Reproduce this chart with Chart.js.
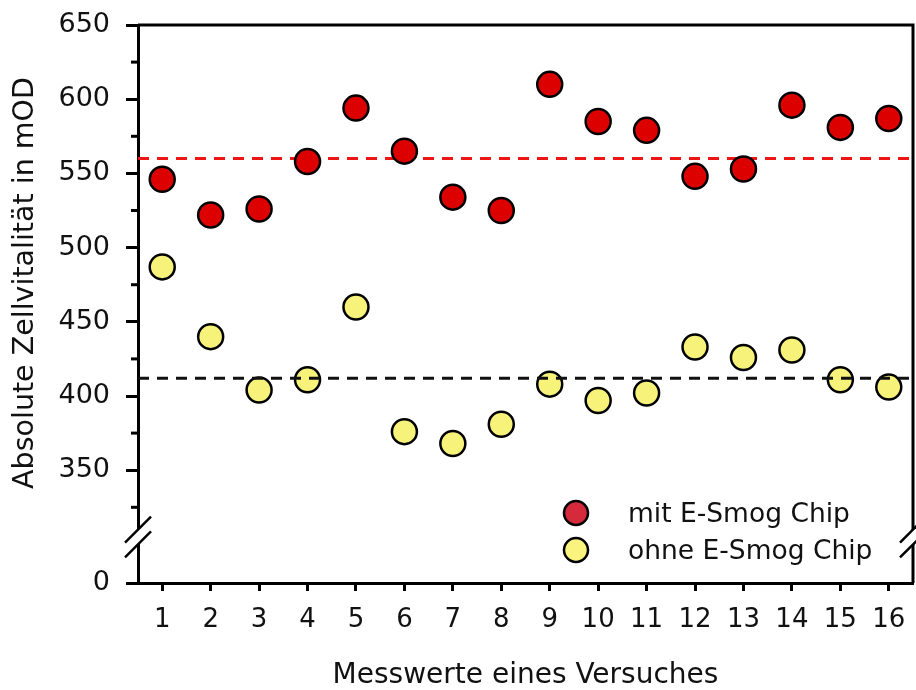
<!DOCTYPE html>
<html>
<head>
<meta charset="utf-8">
<script src="https://cdn.jsdelivr.net/npm/chart.js@4.4.1/dist/chart.umd.min.js"></script>
<style>
  html, body { margin: 0; padding: 0; background: #ffffff; }
  #wrap { width: 916px; height: 690px; }
</style>
</head>
<body>
<div id="wrap"><canvas id="c" width="916" height="690"></canvas></div>
<script>
// ---- data ----
const categories = [1, 2, 3, 4, 5, 6, 7, 8, 9, 10, 11, 12, 13, 14, 15, 16];
const mitChip  = [546, 522, 526, 558, 594, 565, 534, 525, 610, 585, 579, 548, 553, 596, 581, 587];
const ohneChip = [487, 440, 404, 411, 460, 376, 368, 381, 408, 397, 402, 433, 426, 431, 411, 406];
const meanMit = 560;
const meanOhne = 412;
const seriesLabels = ['mit E-Smog Chip', 'ohne E-Smog Chip'];
const yMajorTicks = [350, 400, 450, 500, 550, 600, 650];
const yMinorTicks = [325, 375, 425, 475, 525, 575, 625];
const yBreakBase = 274;      // axis position where the broken axis shows "0"
const yBreakBaseLabel = '0';
const yBreakMarks = [300, 310]; // values where the break slashes sit
const xTitle = 'Messwerte eines Versuches';
const yTitle = 'Absolute Zellvitalität in mOD';

const FONT = 'DejaVu Sans';
const TEXT = '#111111';

Chart.defaults.font.family = FONT;
Chart.defaults.color = TEXT;

const frameBreakPlugin = {
  id: 'frameBreak',
  afterDraw(chart) {
    const ctx = chart.ctx;
    const a = chart.chartArea;
    const ys = chart.scales.y;
    ctx.save();
    // minor ticks on y axis
    ctx.strokeStyle = '#000';
    ctx.lineWidth = 3;
    yMinorTicks.forEach(v => {
      const py = ys.getPixelForValue(v);
      ctx.beginPath();
      ctx.moveTo(a.left - 7, py);
      ctx.lineTo(a.left, py);
      ctx.stroke();
    });
    // top and right frame
    ctx.beginPath();
    ctx.moveTo(a.left, a.top);
    ctx.lineTo(a.right, a.top);
    ctx.lineTo(a.right, a.bottom);
    ctx.stroke();
    // axis breaks (left and right)
    const y1 = ys.getPixelForValue(yBreakMarks[1]);
    const y2 = ys.getPixelForValue(yBreakMarks[0]);
    const d = 13;
    [a.left, a.right].forEach(x => {
      ctx.fillStyle = '#ffffff';
      ctx.beginPath();
      ctx.moveTo(x - d, y1 + d);
      ctx.lineTo(x + d, y1 - d);
      ctx.lineTo(x + d, y2 - d);
      ctx.lineTo(x - d, y2 + d);
      ctx.closePath();
      ctx.fill();
      ctx.strokeStyle = '#000';
      ctx.lineWidth = 2.5;
      [y1, y2].forEach(yy => {
        ctx.beginPath();
        ctx.moveTo(x - d, yy + d);
        ctx.lineTo(x + d, yy - d);
        ctx.stroke();
      });
    });
    // y axis title
    ctx.fillStyle = TEXT;
    ctx.font = '28.5px "' + FONT + '"';
    ctx.textAlign = 'center';
    ctx.textBaseline = 'alphabetic';
    ctx.translate(33, 283);
    ctx.rotate(-Math.PI / 2);
    ctx.fillText(yTitle, 0, 0);
    ctx.restore();

    // legend
    ctx.save();
    const lx = a.right - 337;
    const rows = [a.bottom - 70, a.bottom - 33];
    const legendFills = ['#D42A3C', '#FAF47E'];
    chart.data.datasets.slice(0, 2).forEach((ds, i) => {
      ctx.beginPath();
      ctx.arc(lx, rows[i], 12, 0, Math.PI * 2);
      ctx.fillStyle = legendFills[i];
      ctx.fill();
      ctx.lineWidth = 2.5;
      ctx.strokeStyle = '#000';
      ctx.stroke();
      ctx.fillStyle = TEXT;
      ctx.font = '26.5px "' + FONT + '"';
      ctx.textAlign = 'left';
      ctx.textBaseline = 'alphabetic';
      ctx.fillText(ds.label, lx + 52, rows[i] + 9);
    });
    ctx.restore();
  }
};

const pointsMit = categories.map((c, i) => ({ x: c, y: mitChip[i] }));
const pointsOhne = categories.map((c, i) => ({ x: c, y: ohneChip[i] }));
const xMin = categories[0] - 0.5;
const xMax = categories[categories.length - 1] + 0.5;

function zeroPadding(s) {
  s.paddingTop = 0; s.paddingBottom = 0; s.paddingLeft = 0; s.paddingRight = 0;
}

new Chart(document.getElementById('c'), {
  type: 'scatter',
  data: {
    datasets: [
      {
        label: seriesLabels[0], data: pointsMit, order: 1,
        pointRadius: 12.5, pointHoverRadius: 12.5,
        backgroundColor: '#DD0000', borderColor: '#000', borderWidth: 2.5, clip: false
      },
      {
        label: seriesLabels[1], data: pointsOhne, order: 4,
        pointRadius: 12.5, pointHoverRadius: 12.5,
        backgroundColor: '#F7F27A', borderColor: '#000', borderWidth: 2.5, clip: false
      },
      {
        label: 'mean mit', data: [{ x: xMin, y: meanMit }, { x: xMax, y: meanMit }], order: 2,
        showLine: true, pointRadius: 0, borderColor: '#EE1515', borderWidth: 3,
        borderDash: [11, 8], fill: false
      },
      {
        label: 'mean ohne', data: [{ x: xMin, y: meanOhne }, { x: xMax, y: meanOhne }], order: 3,
        showLine: true, pointRadius: 0, borderColor: '#111', borderWidth: 3,
        borderDash: [11, 8], fill: false
      }
    ]
  },
  options: {
    responsive: false,
    animation: false,
    events: [],
    layout: { autoPadding: false, padding: { top: 25, right: 3, left: 0, bottom: 0 } },
    plugins: { legend: { display: false }, tooltip: { enabled: false } },
    scales: {
      x: {
        type: 'linear', min: xMin, max: xMax,
        afterBuildTicks: s => { s.ticks = categories.map(v => ({ value: v })); },
        afterFit: s => { s.height = 107; zeroPadding(s); },
        ticks: { font: { size: 26 }, color: TEXT, padding: 14, autoSkip: false, maxRotation: 0,
                 callback: v => String(v) },
        grid: { drawOnChartArea: false, drawTicks: true, tickLength: 8, tickWidth: 3, tickColor: '#000' },
        border: { display: true, width: 3, color: '#000' },
        title: { display: true, text: xTitle, font: { size: 28 }, color: TEXT, padding: { top: 0, bottom: -3 } }
      },
      y: {
        type: 'linear', min: yBreakBase, max: 650,
        afterBuildTicks: s => { s.ticks = [yBreakBase].concat(yMajorTicks).map(v => ({ value: v })); },
        afterFit: s => { s.width = 138; zeroPadding(s); },
        ticks: { font: { size: 27 }, color: TEXT, padding: 16, autoSkip: false,
                 callback: v => (v === yBreakBase ? yBreakBaseLabel : String(v)) },
        grid: { drawOnChartArea: false, drawTicks: true, tickLength: 12, tickWidth: 3, tickColor: '#000' },
        border: { display: true, width: 3, color: '#000' }
      }
    }
  },
  plugins: [frameBreakPlugin]
});
</script>
</body>
</html>
